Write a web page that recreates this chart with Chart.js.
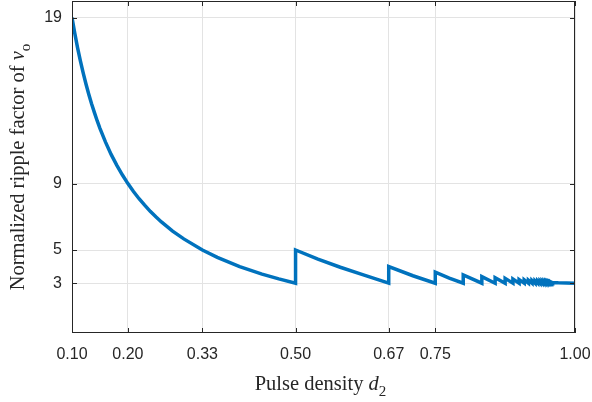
<!DOCTYPE html>
<html>
<head>
<meta charset="utf-8">
<script src="https://cdn.jsdelivr.net/npm/chart.js@4"></script>
<style>
  body { margin: 0; background: #fff; }
  canvas { display: block; }
</style>
</head>
<body>
<canvas id="rippleChart" width="592" height="402"></canvas>
<script>
//data
const density = [
    0.10, 0.105, 0.11, 0.115, 0.12, 0.125, 0.13, 0.135, 0.14, 0.145, 0.15,
    0.16, 0.17, 0.18, 0.19, 0.20, 0.21,
    0.22, 0.23, 0.24, 0.25, 0.26, 0.28, 0.30, 0.3333, 0.36, 0.40, 0.44, 0.47, 0.50,
    0.50, 0.54, 0.58, 0.62, 0.6667,
    0.6667, 0.71, 0.75,
    0.75, 0.775, 0.80,
    0.80, 0.8333,
    0.8333, 0.8571,
    0.8571, 0.875,
    0.875, 0.8889,
    0.8889, 0.90,
    0.90, 0.9091,
    0.9091, 0.9167,
    0.9167, 0.9231,
    0.9231, 0.9286,
    0.9286, 0.9333,
    0.9333, 0.9375,
    0.9375, 0.9412,
    0.9412, 0.9444,
    0.9444, 0.9474,
    0.9474, 0.95,
    0.95, 0.9524,
    0.9524, 0.9545,
    0.9545, 0.9565,
    0.9565, 0.9583,
    0.9583, 0.96,
    0.96, 0.97, 1.00
];
const ripple = [
    19.0, 18.05, 17.18, 16.39, 15.67, 15.0, 14.38, 13.81, 13.29, 12.79, 12.33,
    11.5, 10.76, 10.11, 9.53, 9.0, 8.52,
    8.09, 7.70, 7.33, 7.0, 6.69, 6.14, 5.67, 5.0, 4.56, 4.0, 3.55, 3.26, 3.0,
    5.0, 4.45, 3.96, 3.52, 3.0,
    4.0, 3.45, 3.0,
    3.67, 3.31, 3.0,
    3.5, 3.0,
    3.4, 3.0,
    3.33, 3.0,
    3.29, 3.0,
    3.25, 3.0,
    3.22, 3.0,
    3.2, 3.0,
    3.18, 3.0,
    3.17, 3.0,
    3.15, 3.0,
    3.14, 3.0,
    3.13, 3.0,
    3.12, 3.0,
    3.11, 3.0,
    3.1, 3.0,
    3.09, 3.01,
    3.08, 3.01,
    3.07, 3.01,
    3.06, 3.01,
    3.05, 3.02,
    3.04, 3.02, 3.0
];

//axis ticks
const xTickValues = [0.10, 0.20, 0.3333, 0.50, 0.6667, 0.75, 1.00];
const xTickLabels = ["0.10", "0.20", "0.33", "0.50", "0.67", "0.75", "1.00"];
const yTickValues = [3, 5, 9, 19];

const axisColor = "#262626";
const lineColor = "#0072bd";

const points = density.map((d, i) => ({ x: d, y: ripple[i] }));

//draws a label made of pieces with different fonts
const drawPieces = (ctx, pieces, cx, baseline) => {
    let total = 0;
    pieces.forEach(p => {
        ctx.font = p.font;
        p.w = ctx.measureText(p.text).width;
        total += p.w;
    });
    let x = cx - total / 2;
    ctx.textAlign = "left";
    ctx.textBaseline = "alphabetic";
    pieces.forEach(p => {
        ctx.font = p.font;
        ctx.fillText(p.text, x, baseline + (p.dy || 0));
        x += p.w;
    });
};

//no extra room for edge labels, the plot box is fixed
const noPadding = axis => {
    axis.paddingTop = 0;
    axis.paddingBottom = 0;
    axis.paddingLeft = 0;
    axis.paddingRight = 0;
};

//box, inward tick marks and axis titles (MATLAB look)
const framePlugin = {
    id: "frame",
    afterDraw(chart) {
        const ctx = chart.ctx;
        const area = chart.chartArea;
        const xs = chart.scales.x;
        const ys = chart.scales.y;
        const tick = 5;
        ctx.save();
        ctx.strokeStyle = axisColor;
        ctx.lineWidth = 1;
        ctx.beginPath();
        xTickValues.forEach(v => {
            const px = Math.round(xs.getPixelForValue(v)) + 0.5;
            ctx.moveTo(px, area.bottom);
            ctx.lineTo(px, area.bottom - tick);
            ctx.moveTo(px, area.top);
            ctx.lineTo(px, area.top + tick);
        });
        yTickValues.forEach(v => {
            const py = Math.round(ys.getPixelForValue(v)) + 0.5;
            ctx.moveTo(area.left, py);
            ctx.lineTo(area.left + tick, py);
            ctx.moveTo(area.right, py);
            ctx.lineTo(area.right - tick, py);
        });
        ctx.stroke();
        ctx.strokeRect(area.left + 0.5, area.top + 0.5, area.right - area.left - 1, area.bottom - area.top - 1);

        ctx.fillStyle = axisColor;
        const serif = "'Liberation Serif', 'Times New Roman', serif";
        drawPieces(ctx, [
            { text: "Pulse density ", font: `20.5px ${serif}` },
            { text: "d", font: `italic 20.5px ${serif}` },
            { text: "2", font: `15px ${serif}`, dy: 6 }
        ], (area.left + area.right) / 2 - 3, 390);

        ctx.translate(23.5, (area.top + area.bottom) / 2);
        ctx.rotate(-Math.PI / 2);
        drawPieces(ctx, [
            { text: "Normalized ripple factor of ", font: `20.5px ${serif}` },
            { text: "v", font: `italic 20.5px ${serif}` },
            { text: "o", font: `15px ${serif}`, dy: 6 }
        ], 0, 0);
        ctx.restore();
    }
};

const ctx = document.getElementById("rippleChart");
const rippleChart = new Chart(ctx, {
    type: "line",
    data: {
        datasets: [{
            data: points,
            borderColor: lineColor,
            borderWidth: 3.5,
            pointRadius: 0,
            tension: 0,
            fill: false
        }]
    },
    options: {
        responsive: false,
        animation: false,
        layout: { padding: { top: 1, right: 17, left: 0, bottom: 0 } },
        plugins: {
            legend: { display: false },
            tooltip: { enabled: false }
        },
        scales: {
            x: {
                type: "linear",
                min: 0.1,
                max: 1.0,
                afterBuildTicks: axis => { axis.ticks = xTickValues.map(v => ({ value: v })); },
                afterFit: axis => { axis.height = 69; noPadding(axis); },
                border: { display: false },
                grid: { color: "#e3e3e3", drawTicks: false },
                ticks: {
                    color: axisColor,
                    padding: 12,
                    maxRotation: 0,
                    autoSkip: false,
                    font: { family: "'Liberation Sans', Arial, sans-serif", size: 16 },
                    callback: (value, i) => xTickLabels[i]
                }
            },
            y: {
                type: "linear",
                min: 0,
                max: 20,
                afterBuildTicks: axis => { axis.ticks = yTickValues.map(v => ({ value: v })); },
                afterFit: axis => { axis.width = 72; noPadding(axis); },
                border: { display: false },
                grid: { color: "#e3e3e3", drawTicks: false },
                ticks: {
                    color: axisColor,
                    padding: 10,
                    autoSkip: false,
                    font: { family: "'Liberation Sans', Arial, sans-serif", size: 16 },
                    callback: value => String(value)
                }
            }
        }
    },
    plugins: [framePlugin]
});
</script>
</body>
</html>
